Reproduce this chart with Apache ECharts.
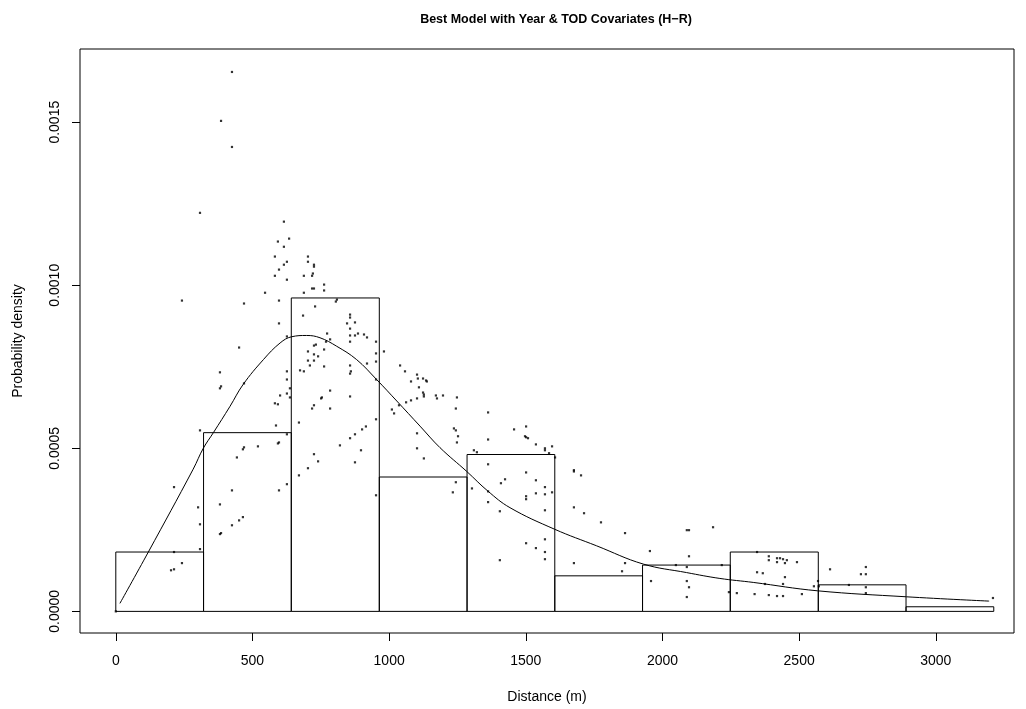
<!DOCTYPE html>
<html>
<head>
<meta charset="utf-8">
<script src="https://cdn.jsdelivr.net/npm/echarts@6/dist/echarts.min.js"></script>
<style>
html,body{margin:0;padding:0;background:#fff;}
#chart{width:1026px;height:709px;}
</style>
</head>
<body>
<div id="chart"></div>
<script>
const titleText = "Best Model with Year & TOD Covariates (H\u2212R)";
const xName = "Distance (m)";
const yName = "Probability density";
const xTicks = [0, 500, 1000, 1500, 2000, 2500, 3000];
const yTicks = [0, 0.0005, 0.0010, 0.0015];

// histogram
const breaks = [0, 321, 642, 964, 1285, 1606, 1927, 2248, 2570, 2891, 3212];
const density = [0.000182, 0.000548, 0.000961, 0.000412, 0.000481, 0.000109, 0.000142, 0.000182, 0.0000814, 0.0000141];

// fitted curve
const curveX = [15, 119, 283, 320, 357, 418, 466, 540, 601, 643, 698, 747, 808, 881, 954, 1028, 1113, 1186, 1284, 1361, 1442, 1605, 1759, 1930, 2088, 2210, 2332, 2567, 2893, 3195];
const curveY = [0.0000245, 0.000182, 0.000436, 0.000500, 0.000548, 0.000629, 0.000696, 0.000772, 0.000823, 0.000842, 0.000846, 0.000839, 0.000813, 0.000772, 0.000711, 0.000645, 0.000568, 0.000502, 0.000429, 0.000369, 0.000318, 0.000252, 0.000201, 0.000145, 0.000119, 0.000101, 0.0000888, 0.0000631, 0.0000447, 0.0000315];

// observed points [distance, density]
const points = [
[425,0.001654],[385,0.001504],[425,0.001424],[308,0.001222],[615,0.001195],[634,0.001143],[593,0.001134],[615,0.001118],[582,0.001088],[703,0.001088],
[626,0.001072],[615,0.001063],[597,0.001048],[703,0.001072],[725,0.001063],[725,0.001057],[582,0.001029],[688,0.001029],[721,0.001036],[718,0.001029],
[626,0.001017],[762,0.001002],[762,0.000984],[718,0.000990],[725,0.000990],[688,0.000977],[546,0.000977],[242,0.000953],[597,0.000953],[469,0.000944],
[809,0.000956],[805,0.000950],[729,0.000935],[685,0.000907],[857,0.000910],[857,0.000901],[846,0.000883],[875,0.000886],[597,0.000883],[857,0.000867],
[773,0.000852],[857,0.000846],[875,0.000846],[886,0.000852],[908,0.000849],[626,0.000843],[919,0.000840],[784,0.000834],[769,0.000827],[857,0.000827],
[952,0.000827],[732,0.000818],[725,0.000815],[451,0.000809],[762,0.000803],[981,0.000797],[703,0.000797],[952,0.000791],[725,0.000788],[740,0.000782],
[703,0.000769],[725,0.000769],[952,0.000766],[710,0.000754],[857,0.000754],[919,0.000760],[762,0.000751],[1040,0.000754],[674,0.000739],[688,0.000736],
[626,0.000736],[381,0.000733],[1058,0.000736],[860,0.000736],[857,0.000729],[1102,0.000726],[1105,0.000714],[626,0.000711],[952,0.000711],[469,0.000699],
[1080,0.000705],[385,0.000690],[381,0.000684],[637,0.000684],[1109,0.000687],[626,0.000668],[637,0.000656],[601,0.000662],[1102,0.000653],[1080,0.000647],
[1062,0.000641],[784,0.000677],[857,0.000659],[754,0.000656],[751,0.000653],[582,0.000638],[593,0.000635],[1036,0.000632],[1010,0.000619],[1018,0.000607],
[725,0.000632],[718,0.000622],[784,0.000622],[952,0.000589],[670,0.000579],[586,0.000570],[915,0.000567],[901,0.000558],[875,0.000543],[857,0.000531],
[308,0.000555],[1102,0.000546],[626,0.000543],[597,0.000518],[593,0.000515],[820,0.000509],[469,0.000503],[465,0.000497],[520,0.000506],[1102,0.000500],
[443,0.000472],[897,0.000494],[725,0.000482],[740,0.000460],[875,0.000457],[703,0.000439],[670,0.000417],[213,0.000381],[425,0.000371],[597,0.000371],
[626,0.000390],[952,0.000356],[301,0.000319],[381,0.000328],[308,0.000267],[425,0.000264],[451,0.000279],[465,0.000289],[381,0.000237],[385,0.000240],
[308,0.000191],[213,0.000182],[242,0.000148],[202,0.000126],[213,0.000129],[0,0.000000],
[1124,0.000714],[1135,0.000708],[1138,0.000705],[1124,0.000671],[1127,0.000665],[1127,0.000659],[1171,0.000662],[1175,0.000653],[1197,0.000662],[1248,0.000656],
[1244,0.000622],[1362,0.000610],[1237,0.000561],[1244,0.000555],[1252,0.000537],[1248,0.000518],[1362,0.000527],[1457,0.000558],[1501,0.000567],[1497,0.000537],
[1501,0.000534],[1508,0.000531],[1537,0.000512],[1570,0.000500],[1596,0.000506],
[1127,0.000469],[1570,0.000494],[1585,0.000485],[1607,0.000472],[1310,0.000494],[1321,0.000488],[1362,0.000451],[1501,0.000426],[1244,0.000396],[1233,0.000365],
[1303,0.000377],[1409,0.000393],[1424,0.000405],[1362,0.000368],[1537,0.000402],[1570,0.000381],[1596,0.000365],[1537,0.000362],[1570,0.000359],[1501,0.000353],
[1501,0.000344],[1362,0.000335],[1405,0.000307],[1570,0.000310],[1501,0.000209],[1537,0.000194],[1570,0.000221],[1570,0.000182],[1570,0.000160],[1405,0.000157],
[1676,0.000433],[1676,0.000429],[1702,0.000417],[1676,0.000319],[1713,0.000301],[1775,0.000273],[1863,0.000240],[1676,0.000148],[1863,0.000148],[1852,0.000123],
[1954,0.000185],[1958,0.000093],[2089,0.000249],[2097,0.000249],[2185,0.000258],[2097,0.000169],[2049,0.000142],[2089,0.000136],[2217,0.000142],[2089,0.000093],
[2097,0.000074],[2089,0.000044],[2243,0.000059],
[2272,0.000056],[2346,0.000182],[2389,0.000169],[2389,0.000157],[2419,0.000163],[2430,0.000163],[2441,0.000160],[2455,0.000157],[2419,0.000151],[2448,0.000148],
[2492,0.000151],[2346,0.000120],[2367,0.000117],[2448,0.000105],[2375,0.000084],[2441,0.000084],[2337,0.000053],[2389,0.000050],[2419,0.000047],[2441,0.000047],
[2510,0.000053],[2554,0.000077],[2572,0.000077],[2569,0.000093],[2613,0.000129],[2682,0.000081],[2744,0.000136],[2726,0.000114],[2744,0.000114],[2744,0.000074],
[2744,0.000056],[3209,0.000041]
];

const histData = density.map((d, i) => [breaks[i], breaks[i + 1], d]);
const curveData = curveX.map((x, i) => [x, curveY[i]]);

const chart = echarts.init(document.getElementById('chart'), null, {renderer: 'canvas'});
const font = "'Liberation Sans', Arial, Helvetica, sans-serif";

chart.setOption({
  animation: false,
  backgroundColor: '#ffffff',
  title: {
    text: titleText,
    left: 551,
    top: 8,
    textAlign: 'center',
    textStyle: {fontFamily: font, fontSize: 12.5, fontWeight: 'bold', color: '#000'}
  },
  grid: {left: 80, right: 12, top: 49, bottom: 76, show: true, borderColor: '#000', borderWidth: 1,
    backgroundColor: 'transparent', containLabel: false, outerBoundsMode: 'none'},
  xAxis: {
    type: 'value',
    min: -131, max: 3286,
    name: xName,
    nameLocation: 'middle',
    nameGap: 57,
    nameTextStyle: {fontFamily: font, fontSize: 14, color: '#000'},
    axisLine: {show: false, onZero: false},
    splitLine: {show: false},
    axisTick: {show: true, length: 8, customValues: xTicks, lineStyle: {color: '#000'}},
    axisLabel: {customValues: xTicks, margin: 21, fontFamily: font, fontSize: 14, color: '#000',
      formatter: v => String(v)}
  },
  yAxis: {
    type: 'value',
    min: -0.0000663, max: 0.0017244,
    name: yName,
    nameLocation: 'middle',
    nameGap: 55,
    nameTextStyle: {fontFamily: font, fontSize: 14, color: '#000'},
    axisLine: {show: false, onZero: false},
    splitLine: {show: false},
    axisTick: {show: true, length: 8, customValues: yTicks, lineStyle: {color: '#000'}},
    axisLabel: {customValues: yTicks, rotate: 90, margin: 18, fontFamily: font, fontSize: 14, color: '#000',
      formatter: v => v.toFixed(4)}
  },
  series: [
    {
      type: 'custom',
      data: histData,
      renderItem: function (params, api) {
        const p0 = api.coord([api.value(0), api.value(2)]);
        const p1 = api.coord([api.value(1), 0]);
        return {
          type: 'rect',
          shape: {x: p0[0], y: p0[1], width: p1[0] - p0[0], height: p1[1] - p0[1]},
          style: {fill: 'none', stroke: '#000', lineWidth: 1}
        };
      },
      z: 1
    },
    {
      type: 'line',
      data: curveData,
      smooth: 0.4,
      showSymbol: false,
      symbol: 'none',
      lineStyle: {color: '#000', width: 1},
      z: 2
    },
    {
      type: 'scatter',
      data: points,
      symbol: 'rect',
      symbolSize: 2.2,
      itemStyle: {color: '#000'},
      z: 3
    }
  ]
});
</script>
</body>
</html>
